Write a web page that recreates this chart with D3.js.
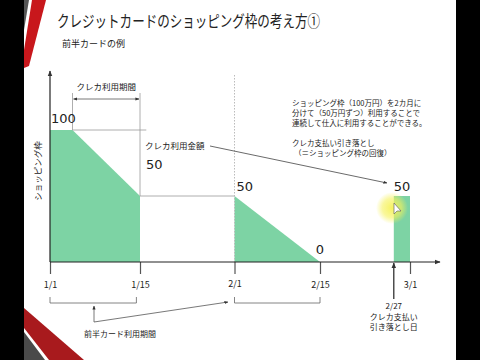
<!DOCTYPE html>
<html>
<head>
<meta charset="utf-8">
<script src="https://cdn.jsdelivr.net/npm/d3@7"></script>
<style>
  html, body { margin: 0; padding: 0; background: #000; }
  svg text { font-family: "Noto Sans CJK JP", "Noto Sans", sans-serif; fill: #222; }
</style>
</head>
<body>
<div id="chart"></div>
<script>
// date ticks on a schematic half-month axis
const tickDates = ["1/1", "1/15", "2/1", "2/15", "3/1"];
const tickPos = [0, 1, 2.05, 3, 4];
const payDate = { label: "2/27", t: 3.82 };

// shopping-limit usage (万円)
const firstUse = [{ t: 0, v: 100 }, { t: 0.25, v: 100 }, { t: 1, v: 50 }];
const secondUse = [{ t: 2.05, v: 50 }, { t: 3, v: 0 }];
const recovered = { t0: 3.82, t1: 4, v: 50 };

const valueLabels = [
    { t: 0, v: 100, text: "100" },
    { t: 1, v: 50, text: "50" },
    { t: 2.05, v: 50, text: "50" },
    { t: 3, v: 0, text: "0" },
    { t: 3.82, v: 50, text: "50" }
];

const title = "クレジットカードのショッピング枠の考え方①";
const subtitle = "前半カードの例";
const yLabel = "ショッピング枠";
const noteLines = ["ショッピング枠（100万円）を2カ月に", "分けて（50万円ずつ）利用することで", "連続して仕入に利用することができる。"];
const payNote = ["クレカ支払い引き落とし", "（＝ショッピング枠の回復）"];
const payLabel = ["2/27", "クレカ支払い", "引き落とし日"];

const W = 480, H = 360;
const svg = d3.select("#chart").append("svg")
    .attr("width", W).attr("height", H);

// slide background + side bars
svg.append("rect").attr("width", W).attr("height", H).attr("fill", "#000");
svg.append("rect").attr("x", 24).attr("width", 432).attr("height", H).attr("fill", "#fff");

// decorative stripes
svg.append("polygon").attr("points", "24,0 29,0 24,30").attr("fill", "#555");
svg.append("polygon").attr("points", "32,0 46,0 29,66 24,68 24,50").attr("fill", "#c8171c");
svg.append("polygon").attr("points", "24,308 84,360 49,360 24,328").attr("fill", "#a81a1d");
svg.append("polygon").attr("points", "24,332 45,360 24,360").attr("fill", "#4a4a4a");

const defs = svg.append("defs");
defs.append("marker").attr("id", "arr")
    .attr("viewBox", "0 0 10 10").attr("refX", 9).attr("refY", 5)
    .attr("markerWidth", 5).attr("markerHeight", 5).attr("orient", "auto-start-reverse")
    .append("path").attr("d", "M0,1 L10,5 L0,9 Z").attr("fill", "#333");
const glow = defs.append("radialGradient").attr("id", "glow");
glow.append("stop").attr("offset", "0%").attr("stop-color", "#f6f25a").attr("stop-opacity", 0.95);
glow.append("stop").attr("offset", "60%").attr("stop-color", "#f6f25a").attr("stop-opacity", 0.6);
glow.append("stop").attr("offset", "100%").attr("stop-color", "#f6f25a").attr("stop-opacity", 0);

// scales
const x = d3.scaleLinear().domain([0, 4]).range([50, 410]);
const y = d3.scaleLinear().domain([0, 100]).range([262, 130]);
const green = "#7dd3a4";

// title
svg.append("text").attr("x", 57).attr("y", 27)
    .attr("font-size", 16).attr("textLength", 263).attr("lengthAdjust", "spacingAndGlyphs")
    .text(title);
svg.append("text").attr("x", 62).attr("y", 47)
    .attr("font-size", 9).attr("fill", "#444").text(subtitle);

// areas
const area = d3.area().x(d => x(d.t)).y0(y(0)).y1(d => y(d.v));
svg.append("path").datum(firstUse).attr("d", area).attr("fill", green);
svg.append("path").datum(secondUse).attr("d", area).attr("fill", green);
svg.append("rect")
    .attr("x", x(recovered.t0)).attr("y", y(recovered.v))
    .attr("width", x(recovered.t1) - x(recovered.t0))
    .attr("height", y(0) - y(recovered.v))
    .attr("fill", green);

// guide lines
const guide = svg.append("g").attr("stroke", "#999").attr("stroke-width", 0.8).attr("fill", "none");
guide.append("line").attr("x1", x(0.25)).attr("x2", x(1.07)).attr("y1", y(100)).attr("y2", y(100));
guide.append("line").attr("x1", x(1)).attr("x2", x(2.05)).attr("y1", y(50)).attr("y2", y(50));
guide.append("line").attr("x1", x(0.25)).attr("x2", x(0.25)).attr("y1", 93).attr("y2", y(100));
guide.append("line").attr("x1", x(1)).attr("x2", x(1)).attr("y1", 93).attr("y2", y(50));
svg.append("line").attr("x1", x(2.05)).attr("x2", x(2.05)).attr("y1", 75).attr("y2", y(0))
    .attr("stroke", "#bbb").attr("stroke-width", 1).attr("stroke-dasharray", "1.5,1.5");

// usage period arrow
svg.append("line").attr("x1", x(0.25) + 1).attr("x2", x(1) - 1).attr("y1", 99).attr("y2", 99)
    .attr("stroke", "#555").attr("stroke-width", 0.8)
    .attr("marker-start", "url(#arr)").attr("marker-end", "url(#arr)");
svg.append("text").attr("x", (x(0.25) + x(1)) / 2).attr("y", 90)
    .attr("text-anchor", "middle").attr("font-size", 8.5).text("クレカ利用期間");

// axes
const xAxis = d3.axisBottom(x).tickValues(tickPos).tickSize(12)
    .tickFormat((d, i) => tickDates[i]);
const gx = svg.append("g").attr("transform", `translate(0,${y(0)})`).call(xAxis);
gx.select(".domain").remove();
gx.selectAll(".tick line").attr("stroke", "#555").attr("stroke-width", 1.2);
gx.selectAll(".tick text").attr("font-size", 9).attr("fill", "#444").attr("dy", "1.25em")
    .style("font-family", "'Noto Sans CJK JP', sans-serif");
gx.selectAll(".tick").filter((d, i) => i === 2).select("text").attr("dy", "1.1em");

svg.append("line").attr("x1", x(0)).attr("x2", 440).attr("y1", y(0)).attr("y2", y(0))
    .attr("stroke", "#222").attr("stroke-width", 1.2).attr("marker-end", "url(#arr)");
svg.append("line").attr("x1", x(0)).attr("x2", x(0)).attr("y1", y(0)).attr("y2", 71)
    .attr("stroke", "#222").attr("stroke-width", 1.2).attr("marker-end", "url(#arr)");

svg.append("text").attr("transform", "translate(41,171) rotate(-90)")
    .attr("text-anchor", "middle").attr("font-size", 8.5).attr("fill", "#444").text(yLabel);

// value labels
const labelOffsets = [[1, -7, "start"], [6, -27, "start"], [2, -5, "start"], [0, -8, "middle"], [0, -5, "start"]];
svg.selectAll(".val").data(valueLabels).join("text")
    .attr("class", "val")
    .attr("x", (d, i) => x(d.t) + labelOffsets[i][0])
    .attr("y", (d, i) => y(d.v) + labelOffsets[i][1])
    .attr("text-anchor", (d, i) => labelOffsets[i][2])
    .attr("font-size", 13)
    .style("font-family", "'DejaVu Sans', sans-serif")
    .text(d => d.text);

// usage amount callout
svg.append("text").attr("x", 145).attr("y", 149).attr("font-size", 8.5).text("クレカ利用金額");
svg.append("line").attr("x1", 210).attr("y1", 146).attr("x2", 387).attr("y2", 183)
    .attr("stroke", "#444").attr("stroke-width", 0.8).attr("marker-end", "url(#arr)");

// notes
svg.selectAll(".note").data(noteLines).join("text")
    .attr("class", "note").attr("x", 292).attr("y", (d, i) => 106 + i * 10)
    .attr("font-size", 7.5).text(d => d);
svg.selectAll(".pay").data(payNote).join("text")
    .attr("class", "pay").attr("x", (d, i) => 292 + i * 2).attr("y", (d, i) => 146 + i * 10)
    .attr("font-size", 7.5).text(d => d);

// brackets under the axis
const bracket = (a, b) => `M${x(a)},297 V303 H${x(b)} V297`;
svg.append("path").attr("d", bracket(0, 0.96)).attr("fill", "none").attr("stroke", "#666").attr("stroke-width", 0.8);
svg.append("path").attr("d", bracket(2.05, 3)).attr("fill", "none").attr("stroke", "#666").attr("stroke-width", 0.8);
svg.append("line").attr("x1", 94).attr("y1", 322).attr("x2", 94).attr("y2", 306)
    .attr("stroke", "#555").attr("stroke-width", 0.8).attr("marker-end", "url(#arr)");
svg.append("line").attr("x1", 94).attr("y1", 322).attr("x2", 228).attr("y2", 302)
    .attr("stroke", "#555").attr("stroke-width", 0.8).attr("marker-end", "url(#arr)");
svg.append("text").attr("x", 84).attr("y", 337).attr("font-size", 8).text("前半カード利用期間");

// payment date arrow
svg.append("line").attr("x1", x(payDate.t)).attr("x2", x(payDate.t)).attr("y1", 299).attr("y2", y(0) + 1)
    .attr("stroke", "#222").attr("stroke-width", 1.2).attr("marker-end", "url(#arr)");
svg.selectAll(".payl").data(payLabel).join("text")
    .attr("class", "payl").attr("x", x(payDate.t)).attr("y", (d, i) => 309 + i * 10.5)
    .attr("text-anchor", "middle").attr("font-size", i => 8).attr("fill", "#444").text(d => d);

// pointer highlight
svg.append("circle").attr("cx", 392).attr("cy", 208).attr("r", 16).attr("fill", "url(#glow)");
svg.append("path").attr("d", "M394,203 L394,214 L397,211 L401,211 Z")
    .attr("fill", "#fff").attr("stroke", "#555").attr("stroke-width", 0.6);
</script>
</body>
</html>
